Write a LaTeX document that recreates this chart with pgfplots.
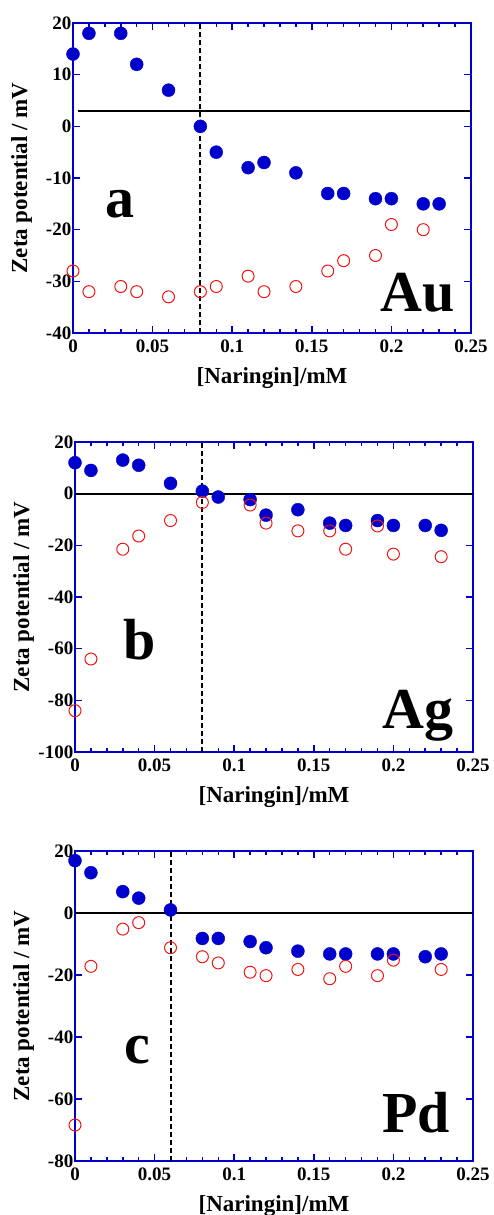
\documentclass[border=0pt]{standalone}
\usepackage{pgfplots}
\pgfplotsset{compat=1.18}
\usepackage{fontspec}
\setmainfont{Liberation Serif}
\definecolor{myblue}{RGB}{0,0,204}
\definecolor{myred}{RGB}{240,20,20}
\pgfplotsset{zstyle/.style={
  scale only axis, width=398pt, height=310pt,
  xmin=0, xmax=0.25,
  xtick={0,0.05,0.1,0.15,0.2,0.25},
  xticklabels={0,0.05,0.1,0.15,0.2,0.25},
  minor x tick num=4,
  tick align=inside, xtick pos=both, ytick pos=both,
  axis line style={myblue, line width=2pt},
  tick style={myblue, line width=1.5pt},
  major tick length=7pt, minor tick length=4pt,
  tick label style={font=\fontsize{19}{22}\selectfont\bfseries},
  yticklabel style={inner xsep=1.5pt, inner ysep=0pt, text depth=0pt},
  xticklabel style={inner xsep=1pt, inner ysep=0pt, text depth=0pt, yshift=-7pt},
  /pgf/number format/assume math mode=true,
  label style={font=\fontsize{23}{26}\selectfont\bfseries},
  xlabel={[Naringin]/mM}, ylabel={Zeta potential / mV},
  xlabel style={at={(axis description cs:0.5,0)}, anchor=center, yshift=-45pt},
  ylabel style={at={(axis description cs:-0.129,0.5)}, anchor=center},
  clip=false,
}}
\pgfplotsset{
  bl/.style={only marks, mark=*, mark size=6.5pt, mark options={fill=myblue, draw=myblue}},
  rd/.style={only marks, mark=o, mark size=6pt, mark options={draw=myred, line width=1pt}},
}
\tikzset{big/.style={font=\fontsize{58}{60}\selectfont\bfseries, inner sep=0pt}}
\begin{document}
\begin{tikzpicture}
\useasboundingbox (0,0) rectangle (493pt,-1215pt);
% ---------- a ----------
\begin{axis}[zstyle, at={(73pt,-333pt)}, anchor=south west,
  ymin=-40, ymax=20, ytick={-40,-30,-20,-10,0,10,20},
  yticklabels={-40,-30,-20,-10,0,10,20}]
\addplot[bl] coordinates {(0,14)(0.01,18)(0.03,18)(0.04,12)(0.06,7)(0.08,0)(0.09,-5)(0.11,-8)(0.12,-7)(0.14,-9)(0.16,-13)(0.17,-13)(0.19,-14)(0.2,-14)(0.22,-15)(0.23,-15)};
\addplot[rd] coordinates {(0,-28)(0.01,-32)(0.03,-31)(0.04,-32)(0.06,-33)(0.08,-32)(0.09,-31)(0.11,-29)(0.12,-32)(0.14,-31)(0.16,-28)(0.17,-26)(0.19,-25)(0.2,-19)(0.22,-20)};
\addplot[black, line width=2pt] coordinates {(0.003,3)(0.25,3)};
\addplot[black, line width=2pt, dash pattern=on 5pt off 3pt] coordinates {(0.08,-40)(0.08,20)};
\node[big, anchor=base] at (axis description cs:0.118,0.371) {a};
\node[big, anchor=base east] at (axis description cs:0.96,0.068) {Au};
\end{axis}
% ---------- b ----------
\begin{axis}[zstyle, at={(75pt,-752pt)}, anchor=south west,
  ymin=-100, ymax=20, ytick={-100,-80,-60,-40,-20,0,20},
  yticklabels={-100,-80,-60,-40,-20,0,20}]
\addplot[bl] coordinates {(0,12)(0.01,9)(0.03,13)(0.04,11)(0.06,4)(0.08,1)(0.09,-1.3)(0.11,-2.3)(0.12,-8.3)(0.14,-6.2)(0.16,-11.4)(0.17,-12.3)(0.19,-10.4)(0.2,-12.3)(0.22,-12.3)(0.23,-14.2)};
\addplot[rd] coordinates {(0,-84)(0.01,-64)(0.03,-21.5)(0.04,-16.4)(0.06,-10.4)(0.08,-3.4)(0.11,-4.4)(0.12,-11.4)(0.14,-14.4)(0.16,-14.4)(0.17,-21.5)(0.19,-12.5)(0.2,-23.4)(0.23,-24.4)};
\addplot[black, line width=2pt] coordinates {(0,0)(0.25,0)};
\addplot[black, line width=2pt, dash pattern=on 5pt off 3pt] coordinates {(0.08,-100)(0.08,20)};
\node[big, anchor=base] at (axis description cs:0.163,0.298) {b};
\node[big, anchor=base east] at (axis description cs:0.952,0.077) {Ag};
\end{axis}
% ---------- c ----------
\begin{axis}[zstyle, at={(75pt,-1161pt)}, anchor=south west,
  ymin=-80, ymax=20, ytick={-80,-60,-40,-20,0,20},
  yticklabels={-80,-60,-40,-20,0,20}]
\addplot[bl] coordinates {(0,16.9)(0.01,13)(0.03,6.9)(0.04,4.8)(0.06,1)(0.08,-8.2)(0.09,-8.2)(0.11,-9.2)(0.12,-11.2)(0.14,-12.3)(0.16,-13.2)(0.17,-13.2)(0.19,-13.2)(0.2,-13.2)(0.22,-14.1)(0.23,-13.2)};
\addplot[rd] coordinates {(0,-68.4)(0.01,-17.2)(0.03,-5.2)(0.04,-3.1)(0.06,-11.2)(0.08,-14.1)(0.09,-16.1)(0.11,-19.1)(0.12,-20.2)(0.14,-18.2)(0.16,-21.2)(0.17,-17.2)(0.19,-20.2)(0.2,-15.2)(0.23,-18.2)};
\addplot[black, line width=2pt] coordinates {(0,0)(0.25,0)};
\addplot[black, line width=2pt, dash pattern=on 5pt off 3pt] coordinates {(0.06,-80)(0.06,20)};
\node[big, anchor=base] at (axis description cs:0.156,0.314) {c};
\node[big, anchor=base east] at (axis description cs:0.942,0.093) {Pd};
\end{axis}
\end{tikzpicture}
\end{document}
